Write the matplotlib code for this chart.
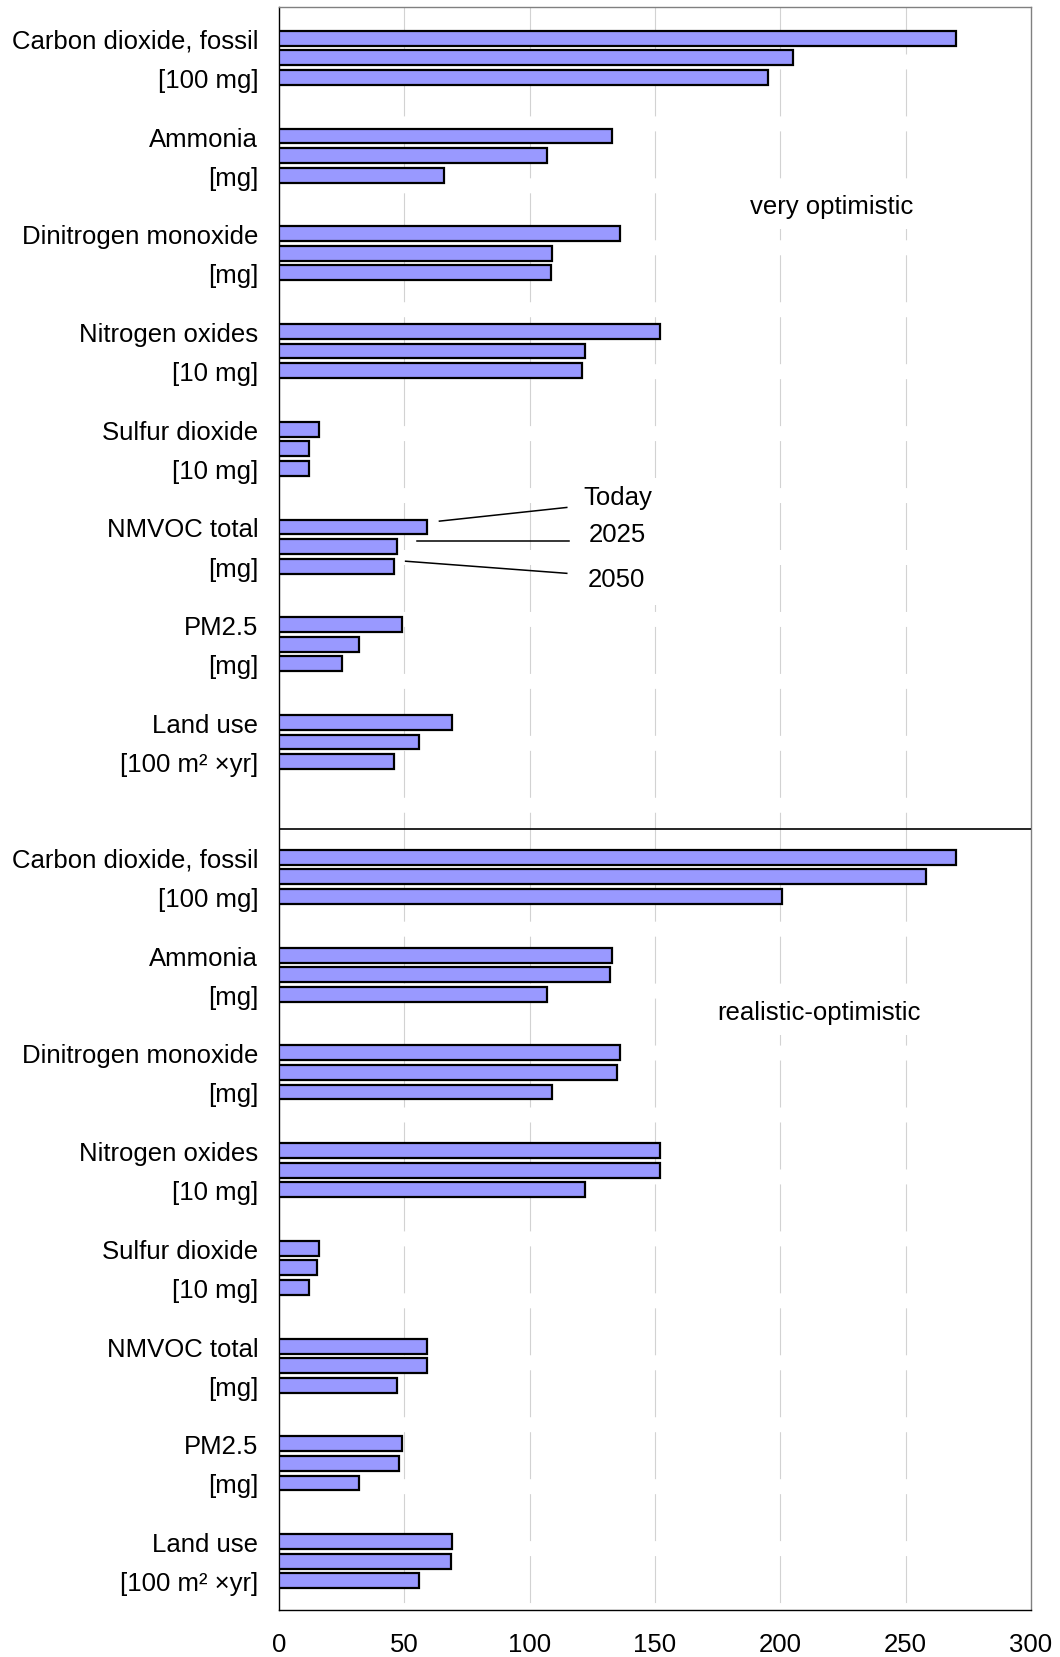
import numpy as np
import matplotlib
matplotlib.use("Agg")
import matplotlib.pyplot as plt
from matplotlib.patches import Rectangle

plt.rcParams['font.family'] = ['Liberation Sans', 'DejaVu Sans']
plt.rcParams['font.size'] = 18.5
plt.rcParams['lines.scale_dashes'] = False

# Data
categories = ["Carbon dioxide, fossil", "Ammonia", "Dinitrogen monoxide", "Nitrogen oxides",
              "Sulfur dioxide", "NMVOC total", "PM2.5", "Land use"]
units = ["[100 mg]", "[mg]", "[mg]", "[10 mg]", "[10 mg]", "[mg]", "[mg]", "[100 m\u00b2 \u00d7yr]"]
years = ["Today", "2025", "2050"]
scenarios = ["very optimistic", "realistic-optimistic"]

very_today = [270, 133, 136, 152, 16, 59, 49, 69]
very_2025 = [205, 107, 109, 122, 12, 47, 32, 56]
very_2050 = [195, 66, 108.5, 121, 12, 46, 25, 46]

real_today = [270, 133, 136, 152, 16, 59, 49, 69]
real_2025 = [258, 132, 135, 152, 15, 59, 48, 68.5]
real_2050 = [200.5, 107, 109, 122, 12, 47, 32, 56]

xticks = [0, 50, 100, 150, 200, 250, 300]

# layout
W, H = 1060, 1658
fig = plt.figure(figsize=(W / 100, H / 100), dpi=100)
ax = fig.add_axes([279 / W, 1 - 1611 / H, (1031 - 279) / W, (1611 - 8) / H])

panel_start = [1.6, 43.5]
group_step = 5
bar_h = 0.76
bar_color = '#9999FF'

panels = [(very_today, very_2025, very_2050), (real_today, real_2025, real_2050)]
ytick_pos, ytick_lab = [], []
bar_y = {}
for p, series in enumerate(panels):
    base = panel_start[p] + group_step * np.arange(len(categories))
    for j, vals in enumerate(series):
        y = base + j
        bar_y[(p, j)] = y
        ax.barh(y, vals, height=bar_h, color=bar_color, edgecolor='black',
                linewidth=1.6, zorder=3)
    for k in range(len(categories)):
        ytick_pos += [base[k], base[k] + 2]
        ytick_lab += [categories[k], units[k]]

ax.set_xlim(0, 300)
ax.set_ylim(82, 0)
ax.set_xticks(xticks)
ax.set_yticks(ytick_pos)
ax.set_yticklabels(ytick_lab)
ax.tick_params(axis='both', length=0)
ax.tick_params(axis='x', pad=16)
ax.tick_params(axis='y', pad=15)

# broken light grid lines
ax.vlines(xticks[1:-1], 0, 82, colors='#d2d2d2', linewidth=0.8,
          linestyles=[(0, (33.8, 10.8))], zorder=1)

for side in ['left', 'bottom']:
    ax.spines[side].set_color('black')
    ax.spines[side].set_linewidth(1.0)
for side in ['top', 'right']:
    ax.spines[side].set_color('#808080')
    ax.spines[side].set_linewidth(1.0)

# divider between the two scenarios
ax.axhline(42.05, color='black', linewidth=1.2, zorder=4)

# scenario labels
box = dict(facecolor='white', edgecolor='none', pad=8)
ax.text(220.4, 10.2, scenarios[0], ha='center', va='center', bbox=box, zorder=5)
ax.text(215.4, 51.4, scenarios[1], ha='center', va='center', bbox=box, zorder=5)

# year call-outs on the NMVOC bars of the upper panel
k = categories.index("NMVOC total")
ax.add_patch(Rectangle((119, 24.1), 38, 6.5, facecolor='white', edgecolor='none', zorder=2))
starts = [(very_today[k] + 5, bar_y[(0, 0)][k] - 0.3),
          (very_2025[k] + 8, bar_y[(0, 1)][k] - 0.3),
          (very_2050[k] + 4.5, bar_y[(0, 2)][k] - 0.25)]
ends = [(114.8, 25.6), (115.8, 27.3), (114.8, 28.97)]
text_pos = [(121.3, 25.06), (123.7, 26.96), (123.3, 29.26)]
for lab, s, e, t in zip(years, starts, ends, text_pos):
    ax.plot([s[0], e[0]], [s[1], e[1]], color='black', linewidth=1.1, zorder=4)
    ax.text(t[0], t[1], lab, ha='left', va='center', zorder=5)

fig.savefig("out.png", dpi=100)
